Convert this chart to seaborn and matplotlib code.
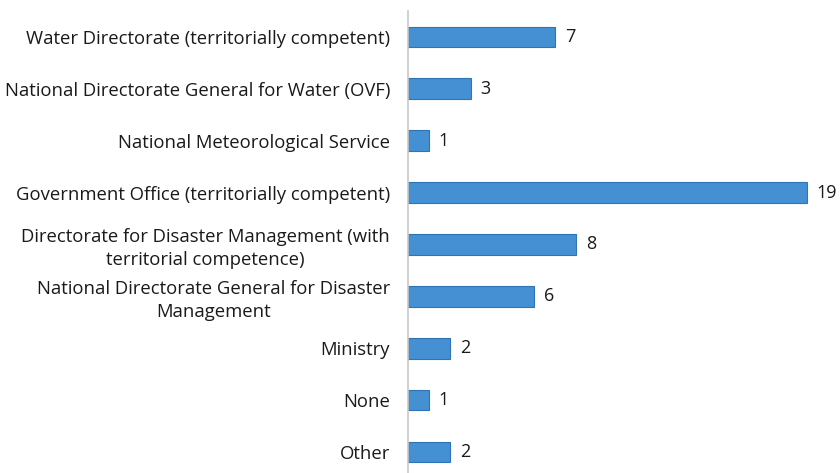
import matplotlib
matplotlib.use("Agg")
import matplotlib.pyplot as plt
import seaborn as sns
import pandas as pd

categories = [
    "Water Directorate (territorially competent)",
    "National Directorate General for Water (OVF)",
    "National Meteorological Service",
    "Government Office (territorially competent)",
    "Directorate for Disaster Management (with\nterritorial competence)",
    "National Directorate General for Disaster\nManagement",
    "Ministry",
    "None",
    "Other",
]
counts = [7, 3, 1, 19, 8, 6, 2, 1, 2]

df = pd.DataFrame({"category": categories, "count": counts})

sns.set_theme(style="white")
plt.rcParams['font.family'] = ['Open Sans', 'DejaVu Sans']

fig = plt.figure(figsize=(8.4, 4.73), dpi=100)
ax = fig.add_axes([408 / 840, 0, 0.5, (473 - 11) / 473])

sns.barplot(data=df, x="count", y="category", orient="h", width=0.4,
            color="#4590d3", edgecolor="#2f74b5", linewidth=0.8,
            saturation=1, ax=ax)

ax.set_xlim(0, 20)
ax.set_ylim(8.405, -0.5)
ax.set_xlabel("")
ax.set_ylabel("")
ax.set_xticks([])
ax.tick_params(axis="y", length=0, pad=13, labelsize=13.3, labelcolor="#1a1a1a")
for lab in ax.get_yticklabels():
    lab.set_multialignment("center")
    lab.set_linespacing(1.3)

for s in ["top", "right", "bottom"]:
    ax.spines[s].set_visible(False)
ax.spines["left"].set_color("#c8c8c8")
ax.spines["left"].set_linewidth(1.2)

for i, v in enumerate(counts):
    ax.annotate(str(v), (v, i), xytext=(7, 0), textcoords="offset points",
                ha="left", va="center", fontsize=13, color="#1a1a1a")

fig.savefig("out.png", dpi=100)
